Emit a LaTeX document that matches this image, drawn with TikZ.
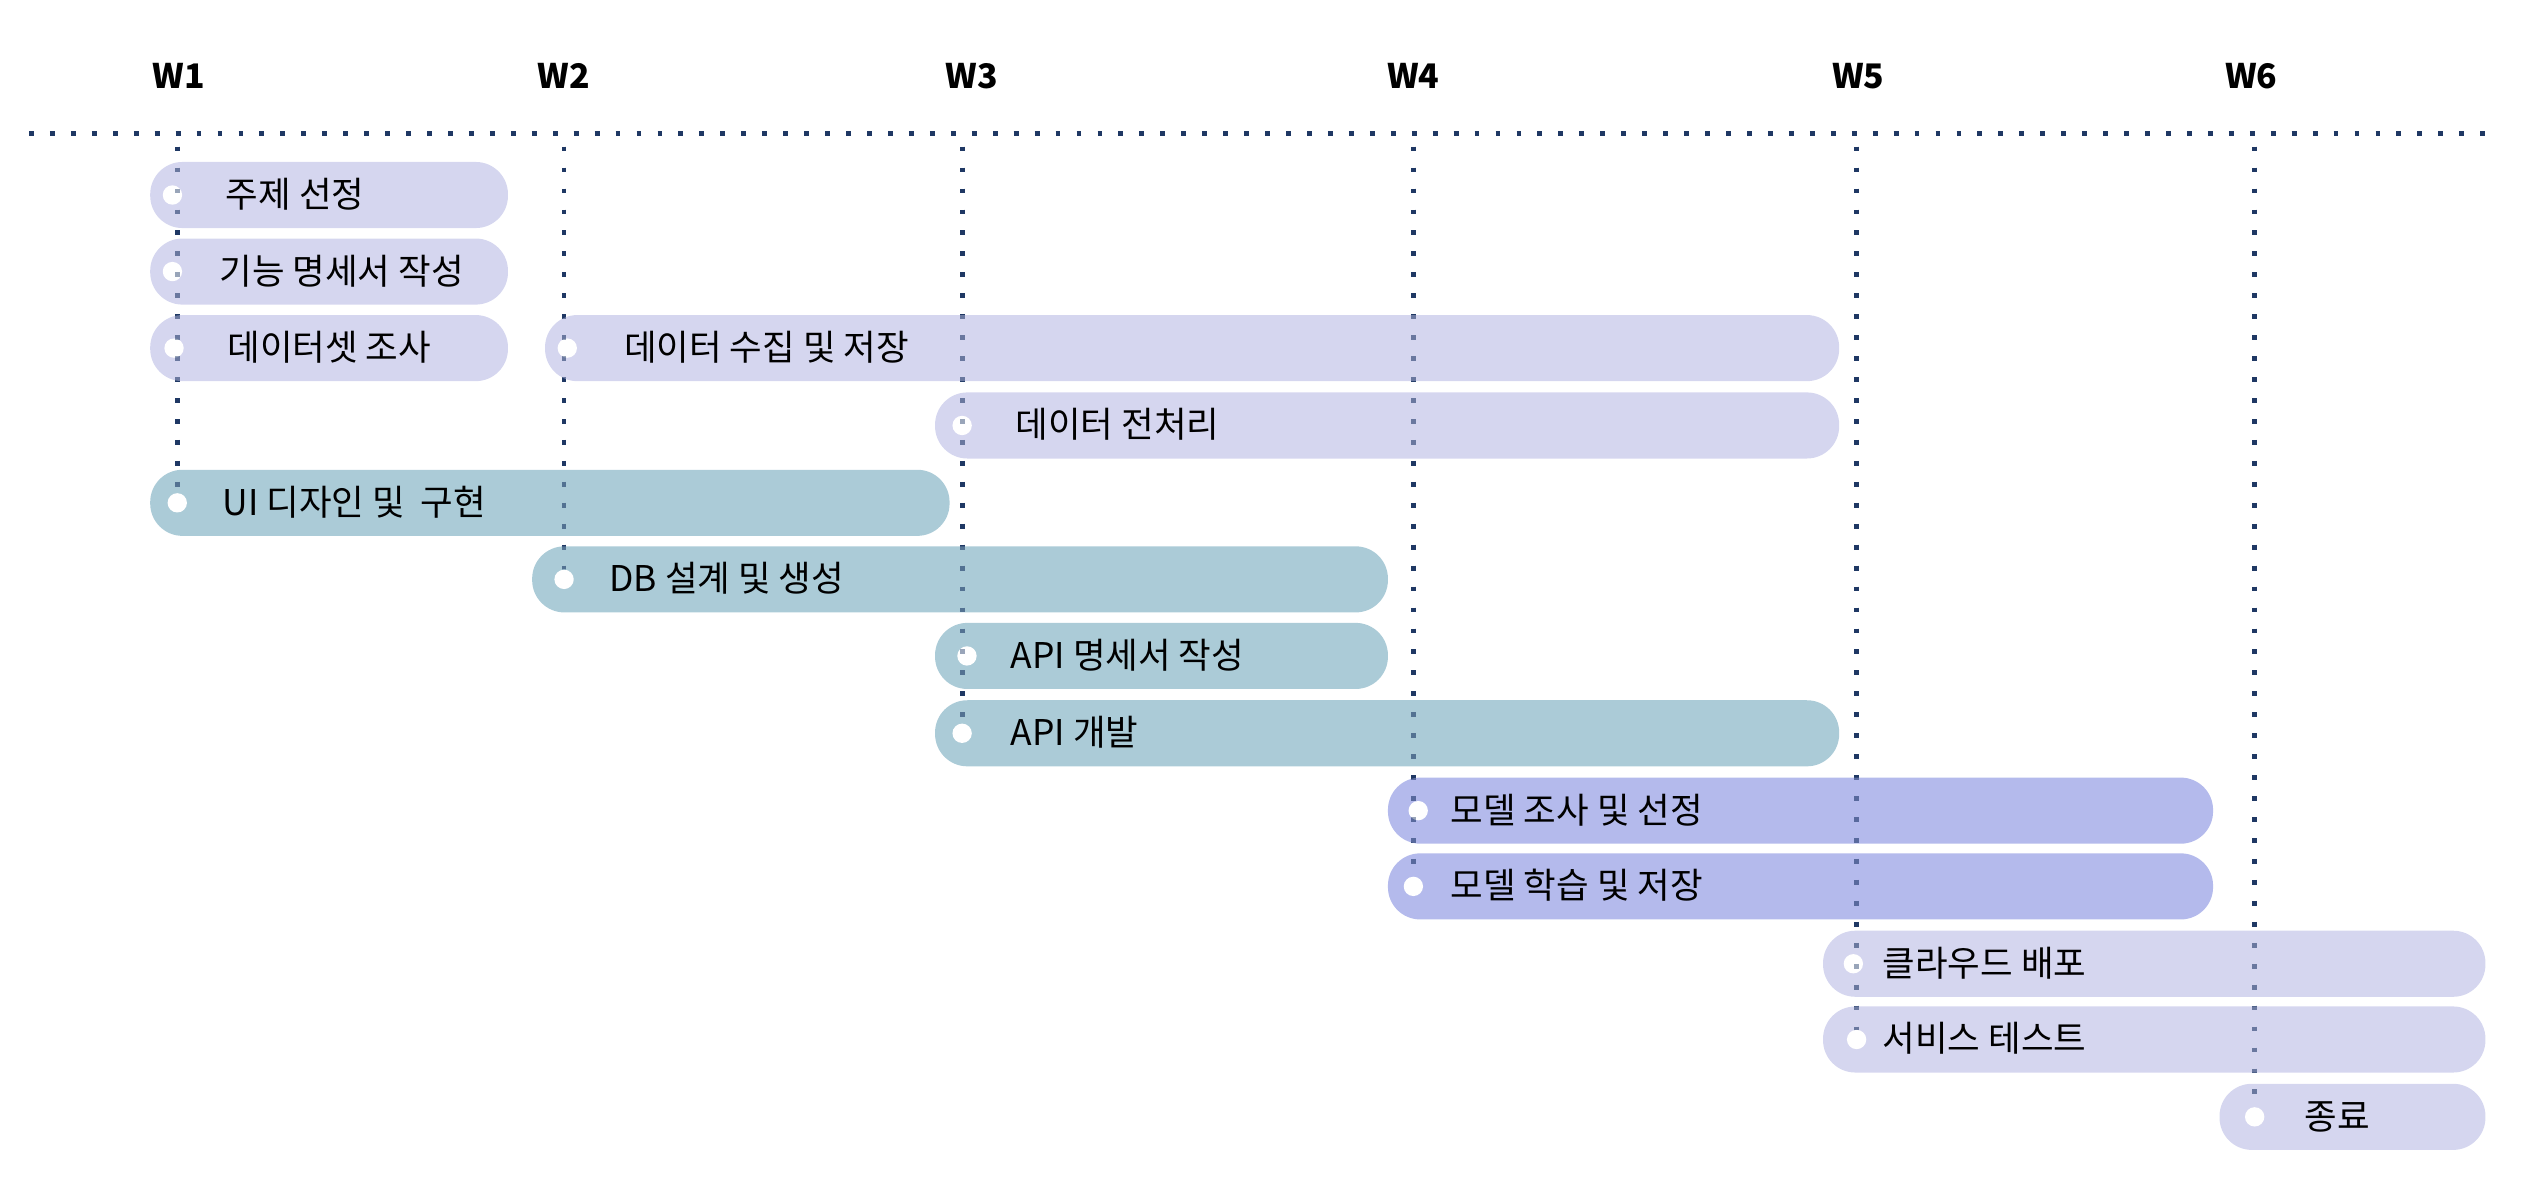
\documentclass[tikz,border=0pt]{standalone}
\usepackage{fontspec}
\setmainfont{Noto Sans CJK KR}
\definecolor{lav}{HTML}{CBCCEB}
\definecolor{teal}{HTML}{96BECD}
\definecolor{peri}{HTML}{A1A9E7}
\definecolor{navy}{HTML}{1F3864}
\begin{document}
\begin{tikzpicture}[x=1pt,y=-1pt,
  bar/.style={rectangle, rounded corners=20pt, inner sep=0pt, anchor=west, minimum height=41pt, draw=none, fill opacity=0.8},
  barL/.style={bar, fill=lav},
  barT/.style={bar, fill=teal},
  barP/.style={bar, fill=peri},
  dotnode/.style={circle, fill=white, inner sep=0pt, minimum size=12pt},
  lbl/.style={anchor=west, inner sep=0pt, font=\fontsize{22pt}{26pt}\selectfont, text height=17.5pt, text depth=2pt},
  wk/.style={inner sep=0pt, font=\fontsize{21pt}{24pt}\selectfont\bfseries},
  dotline/.style={draw=navy, line width=3pt, dash pattern=on 3pt off 10pt},
  overline/.style={dotline, draw opacity=0.45}
]
\useasboundingbox (0,0) rectangle (1568,733);

% week labels
\node[wk] (w1) at (111,47) {W1};
\node[wk] (w2) at (350,47) {W2};
\node[wk] (w3) at (603,47) {W3};
\node[wk] (w4) at (877,47) {W4};
\node[wk] (w5) at (1153,47) {W5};
\node[wk] (w6) at (1397,47) {W6};

% axis line
\coordinate (hl) at (18,83);
\coordinate (hr) at (1548,83);
\draw[dotline] (hl) -- (hr);

% guide line tops and ends
\coordinate (v1) at (110,91);
\coordinate (v2) at (350,91);
\coordinate (v3) at (597,91);
\coordinate (v4) at (877,91);
\coordinate (v5) at (1152,91);
\coordinate (v6) at (1399,91);
\coordinate (e5) at (110,312);
\coordinate (e6) at (350,359.5);
\coordinate (e8) at (597,455);
\coordinate (e10) at (877,550);
\coordinate (e12) at (1152,645);
\coordinate (e13) at (1399,693);

% week guide lines (behind the bars)
\draw[dotline] (v1) -- (e5);
\draw[dotline] (v2) -- (e6);
\draw[dotline] (v3) -- (e8);
\draw[dotline] (v4) -- (e10);
\draw[dotline] (v5) -- (e12);
\draw[dotline] (v6) -- (e13);

% bars
\node[barL, minimum width=222pt] (b1) at (93,121) {};
\node[barL, minimum width=222pt] (b2) at (93,168.5) {};
\node[barL, minimum width=222pt] (b3) at (93,216) {};
\node[barL, minimum width=803pt] (b3b) at (338,216) {};
\node[barL, minimum width=561pt] (b4) at (580,264) {};
\node[barT, minimum width=496pt] (b5) at (93,312) {};
\node[barT, minimum width=531pt] (b6) at (330,359.5) {};
\node[barT, minimum width=281pt] (b7) at (580,407) {};
\node[barT, minimum width=561pt] (b8) at (580,455) {};
\node[barP, minimum width=512pt] (b9) at (861,503) {};
\node[barP, minimum width=512pt] (b10) at (861,550) {};
\node[barL, minimum width=411pt] (b11) at (1131,598) {};
\node[barL, minimum width=411pt] (b12) at (1131,645) {};
\node[barL, minimum width=165pt] (b13) at (1377,693) {};

% circles
\node[dotnode] (c1) at (107,121) {};
\node[dotnode] (c2) at (107,168.5) {};
\node[dotnode] (c3) at (108,216) {};
\node[dotnode] (c3b) at (352,216) {};
\node[dotnode] (c4) at (597,264) {};
\node[dotnode] (c5) at (e5) {};
\node[dotnode] (c6) at (e6) {};
\node[dotnode] (c7) at (600,407) {};
\node[dotnode] (c8) at (e8) {};
\node[dotnode] (c9) at (880,503) {};
\node[dotnode] (c10) at (e10) {};
\node[dotnode] (c11) at (1150,598) {};
\node[dotnode] (c12) at (e12) {};
\node[dotnode] (c13) at (e13) {};

% guide lines again, faint, over the bars
\draw[overline] (v1) -- (c5.north);
\draw[overline] (v2) -- (c6.north);
\draw[overline] (v3) -- (c8.north);
\draw[overline] (v4) -- (c10.north);
\draw[overline] (v5) -- (c12.north);
\draw[overline] (v6) -- (c13.north);

% labels
\node[lbl] (t1) at (140,121) {주제 선정};
\node[lbl] (t2) at (136,168.5) {기능 명세서 작성};
\node[lbl] (t3) at (141,216) {데이터셋 조사};
\node[lbl] (t3b) at (387,216) {데이터 수집 및 저장};
\node[lbl] (t4) at (630,264) {데이터 전처리};
\node[lbl] (t5) at (138,312) {UI 디자인 및 \ 구현};
\node[lbl] (t6) at (378,359.5) {DB 설계 및 생성};
\node[lbl] (t7) at (627,407) {API 명세서 작성};
\node[lbl] (t8) at (627,455) {API 개발};
\node[lbl] (t9) at (900,503) {모델 조사 및 선정};
\node[lbl] (t10) at (900,550) {모델 학습 및 저장};
\node[lbl] (t11) at (1168,598) {클라우드 배포};
\node[lbl] (t12) at (1168,645) {서비스 테스트};
\node[lbl] (t13) at (1430,693) {종료};
\end{tikzpicture}
\end{document}
